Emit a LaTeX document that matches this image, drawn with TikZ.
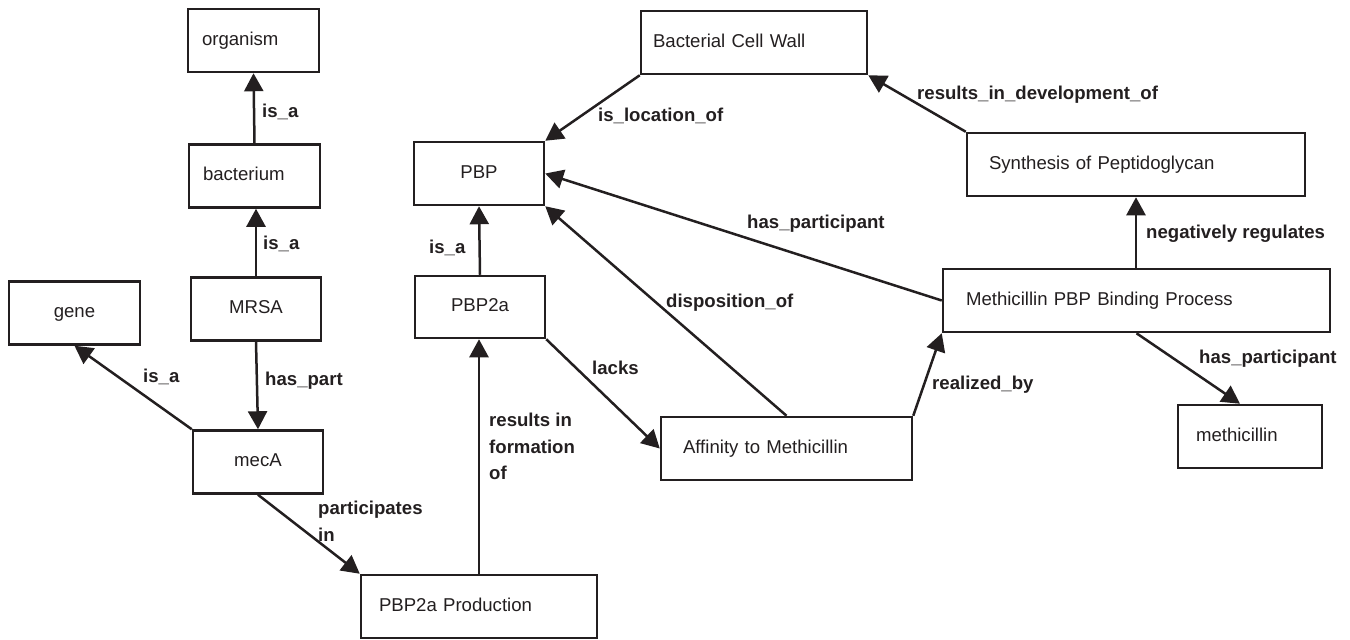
\documentclass[tikz,border=0pt]{standalone}
\usepackage{fontspec}
\setmainfont{Liberation Sans}
\usetikzlibrary{arrows.meta}
\definecolor{ink}{HTML}{231F20}
\begin{document}
\begin{tikzpicture}[x=1pt,y=-1pt,
  every node/.style={text=ink},
  box/.style={draw=ink, line width=2.5pt, minimum height=63pt, inner ysep=0pt,
    font=\fontsize{18.6}{22}\selectfont, text height=13.5pt, text depth=4pt},
  lbox/.style n args={2}{box, align=left, text width=#1, inner xsep=#2},
  cbox/.style={box, align=center, minimum width=#1},
  lbl/.style={font=\fontsize{18.6}{26.5}\selectfont\bfseries, inner sep=0pt, anchor=west,
    text height=13.5pt, text depth=4pt},
  mlbl/.style={font=\fontsize{18.6}{26.5}\selectfont\bfseries, inner sep=0pt, anchor=north west, align=left},
  edge/.style={draw=ink, line width=2.5pt, -{Triangle[length=18pt,width=19pt]}}
]
\useasboundingbox (0,0) rectangle (1350,640);

% boxes
\node[lbox={103pt}{14pt}] (org) at (253.5,40.5) {organism};
\node[lbox={103pt}{14pt}] (bac) at (254.5,176) {bacterium};
\node[cbox=130pt] (mrsa) at (256,309) {MRSA};
\node[cbox=131pt] (gene) at (74.5,313) {gene};
\node[cbox=130pt] (meca) at (258,462) {mecA};
\node[lbox={200pt}{18pt}] (prod) at (479,606.5) {PBP2a Production};
\node[cbox=130pt] (pbp) at (479,173.5) {PBP};
\node[cbox=130pt, minimum height=62pt] (pbp2a) at (480,307) {PBP2a};
\node[lbox={202pt}{12pt}] (bcw) at (754,42.5) {Bacterial Cell Wall};
\node[lbox={294pt}{22pt}] (syn) at (1136,164.5) {Synthesis of Peptidoglycan};
\node[lbox={341pt}{23pt}] (meth) at (1136.5,300.5) {Methicillin PBP Binding Process};
\node[lbox={207pt}{22pt}] (aff) at (786.5,448.5) {Affinity to Methicillin};
\node[lbox={108pt}{18pt}] (mc) at (1250,436.5) {methicillin};

% connectors
\draw[edge] (bac.north) -- (org.south);
\draw[edge] (mrsa.north) -- (mrsa.north |- bac.south);
\draw[edge] (mrsa.south) -- (meca.north);
\draw[edge] (meca.north west) -- (gene.south);
\draw[edge] (meca.south) -- (prod.north west);
\draw[edge] (prod.north) -- (prod.north |- pbp2a.south);
\draw[edge] (pbp2a.north) -- (pbp.south);
\draw[edge] (pbp2a.south east) -- (aff.west);
\draw[edge] (aff.north) -- (pbp.south east);
\draw[edge] (aff.north east) -- (meth.south west);
\draw[edge] (meth.west) -- (pbp.east);
\draw[edge] (bcw.south west) -- (pbp.north east);
\draw[edge] (syn.north west) -- (bcw.south east);
\draw[edge] (meth.north -| syn.south) -- (syn.south);
\draw[edge] (meth.south) -- ([xshift=-10pt]mc.north);

% labels
\node[lbl] (l1) at (262,113) {is\_a};
\node[lbl] (l2) at (263,245) {is\_a};
\node[lbl] (l3) at (265,381) {has\_part};
\node[lbl] (l4) at (143,378) {is\_a};
\node[mlbl] (l5) at (318,501) {participates\\in};
\node[mlbl] (l6) at (489,413) {results in\\formation\\of};
\node[lbl] (l7) at (429,249) {is\_a};
\node[lbl] (l8) at (592,370) {lacks};
\node[lbl] (l9) at (666,303) {disposition\_of};
\node[lbl] (l10) at (932,385) {realized\_by};
\node[lbl] (l11) at (747,224) {has\_participant};
\node[lbl] (l12) at (598,117) {is\_location\_of};
\node[lbl] (l13) at (917,95) {results\_in\_development\_of};
\node[lbl] (l14) at (1146,234) {negatively regulates};
\node[lbl] (l15) at (1199,359) {has\_participant};
\end{tikzpicture}
\end{document}
